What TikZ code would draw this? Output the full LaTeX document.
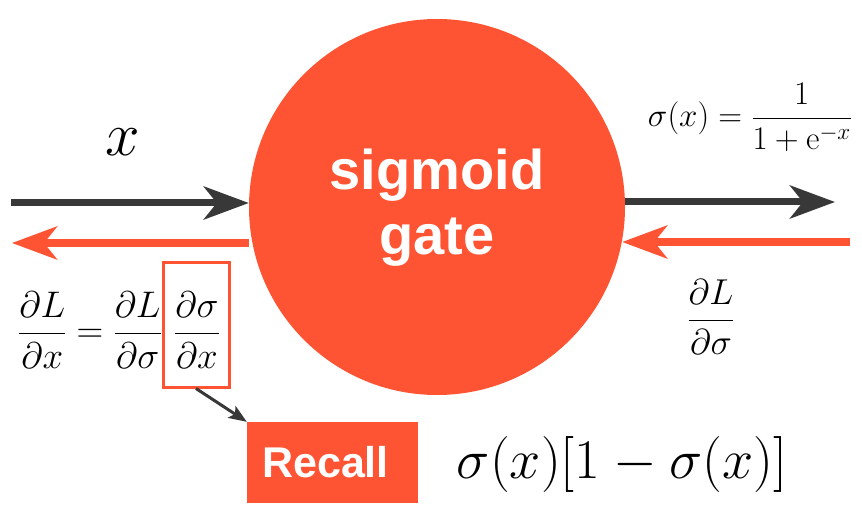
\RequirePackage{fix-cm}
\documentclass[tikz,border=0pt]{standalone}
\usepackage{amsmath}
\usepackage{fontspec}
\newfontfamily\arialfont{Liberation Sans}
\usetikzlibrary{arrows.meta}
\definecolor{orng}{RGB}{255,84,51}
\definecolor{dgray}{RGB}{56,56,56}
\tikzset{
  bigarrow/.style={line width=7pt,-{Stealth[length=45pt,width=33pt,inset=13pt]}},
  fwd/.style={bigarrow,draw=dgray},
  bwd/.style={bigarrow,draw=orng},
  gatecircle/.style={circle,fill=orng,minimum size=376pt,inner sep=0pt},
  gatelabel/.style={text=white,font=\arialfont\bfseries\fontsize{56}{65}\selectfont,align=center},
  recallbox/.style={rectangle,fill=orng,text=white,minimum width=171pt,minimum height=81pt,inner sep=0pt,font=\arialfont\bfseries\fontsize{43}{50}\selectfont},
  hlbox/.style={rectangle,draw=orng,line width=3pt,minimum width=66pt,minimum height=125pt,inner sep=0pt},
  thinarrow/.style={line width=3pt,draw=dgray,-{Stealth[length=18pt,width=14pt,inset=4pt]}},
  mathlbl/.style={inner sep=0pt},
}
\begin{document}
\begin{tikzpicture}[x=1pt,y=-1pt]
\useasboundingbox (0,0) rectangle (862,513);
\node[gatecircle] (gate) at (437,207) {};
\node[gatelabel] (gtext) at (437,208) {sigmoid\\gate};
% input label
\node[mathlbl,font=\fontsize{62}{70}\selectfont] (xlbl) at (123,142) {$x$};
% arrows
\coordinate (xin) at (11,203);
\coordinate (gin) at (850,242);
\coordinate (rout) at (835,202);
\coordinate (gout) at (12,243);
\draw[fwd] (xin) -- (xin -| gate.west);
\draw[fwd] (gate.east |- rout) -- (rout);
\draw[bwd] (gin) -- ([xshift=-3pt]gate.east |- gin);
\draw[bwd] (gate.west |- gout) -- (gout);
% sigmoid definition
\node[mathlbl,font=\fontsize{33}{40}\selectfont] (sigdef) at (750,117) {$\sigma(x) = \dfrac{1}{1+\mathrm{e}^{-x}}$};
% upstream gradient
\node[mathlbl,font=\fontsize{36}{42}\selectfont] (dLds) at (711,317) {$\dfrac{\partial L}{\partial \sigma}$};
% chain rule
\node[mathlbl,font=\fontsize{37}{44}\selectfont,anchor=east] (chain) at (162,330) {$\dfrac{\partial L}{\partial x} = \dfrac{\partial L}{\partial \sigma}$};
\node[mathlbl,font=\fontsize{37}{44}\selectfont] (dsdx) at (197,330) {$\dfrac{\partial \sigma}{\partial x}$};
\node[hlbox] (hl) at (196,324.5) {};
% recall
\node[recallbox] (recall) at (332.5,462.5) {\hspace*{-14pt}Recall};
\node[mathlbl,font=\fontsize{56}{64}\selectfont] (deriv) at (622,464) {$\sigma(x)[1-\sigma(x)]$};
\draw[thinarrow] (hl.south) -- (recall.north west);
\end{tikzpicture}
\end{document}
